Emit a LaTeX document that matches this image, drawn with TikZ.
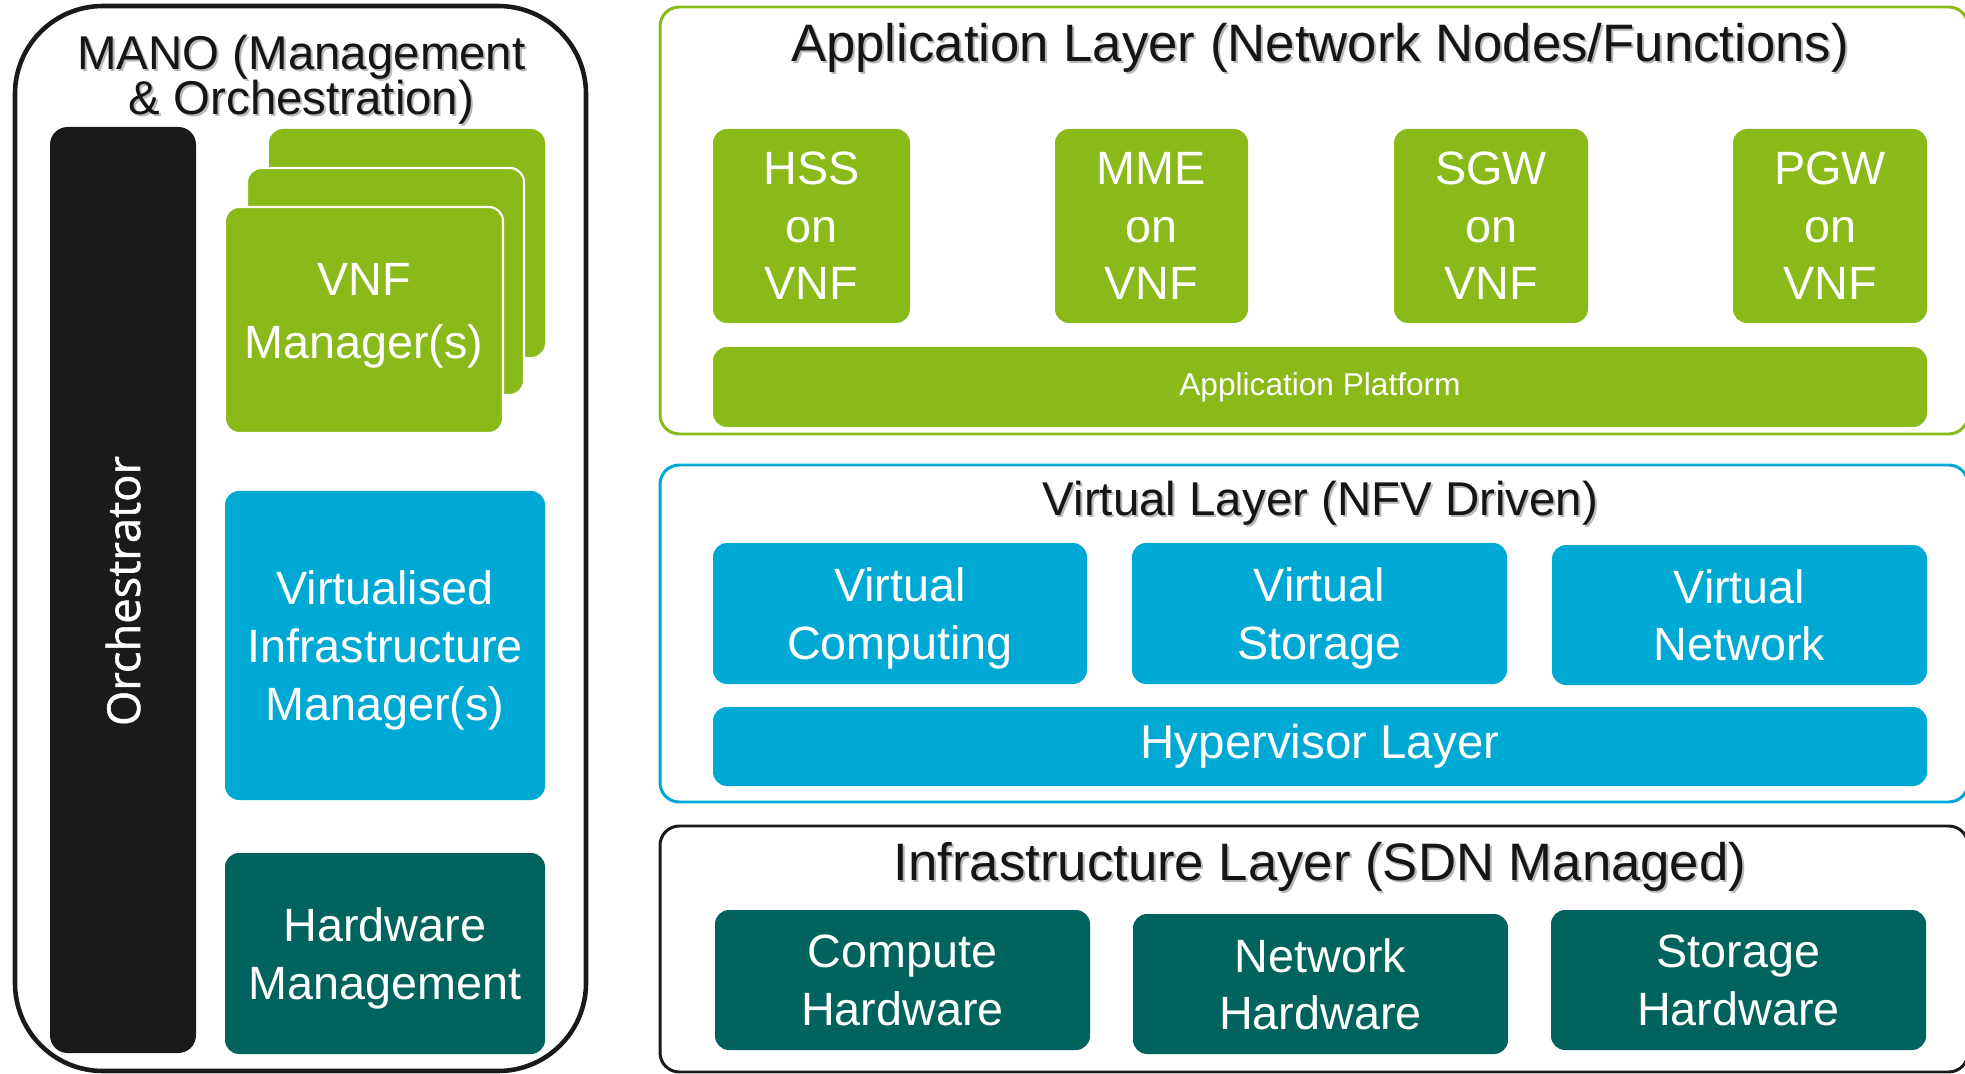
\documentclass[tikz,border=0pt]{standalone}
\usepackage{fontspec}
\setmainfont{Liberation Sans}
\newfontfamily\orchfont{Open Sans}[FakeBold=1.2]
\definecolor{nfvgreen}{HTML}{8AB91A}
\definecolor{nfvblue}{HTML}{00A9D3}
\definecolor{nfvteal}{HTML}{00635D}
\definecolor{nfvblack}{HTML}{1A1A1A}
\definecolor{ttlblack}{HTML}{151515}
\newcommand\bx[7]{\node[#6, minimum width={(#4-#2)*0.02cm}, minimum height={(#5-#3)*0.02cm}] (#1) at ({(#2+#4)/2},{(#3+#5)/2}) {#7};}
\tikzset{
  card/.style={rectangle, rounded corners=8pt, inner sep=0pt, align=center, text=white,
               text depth=0pt, font=\fontsize{26.6}{32.8}\selectfont},
  gcard/.style={card, fill=nfvgreen},
  bcard/.style={card, fill=nfvblue},
  tcard/.style={card, fill=nfvteal},
  layerbox/.style={rectangle, rounded corners=11pt, line width=1.7pt, fill=white, inner sep=0pt},
  ttl/.style={anchor=base, inner sep=0pt, text=ttlblack, align=center},
  shd/.style={anchor=base, inner sep=0pt, text=black!28, align=center},
}
\begin{document}
\begin{tikzpicture}[x=0.02cm,y=-0.02cm]
\useasboundingbox (0,0) rectangle (1965,1074);
\clip (0,0) rectangle (1965,1074);
\fill[white] (0,0) rectangle (1965,1074);

% ---------- MANO ----------
\bx{mano}{15}{6}{586}{1071}{rectangle, rounded corners=50pt, draw=nfvblack, line width=2.6pt, inner sep=0pt}{}
\node[shd, font=\fontsize{27}{22.7}\selectfont] (manoTs) at (303.5,117) {MANO (Management\\\& Orchestration)};
\node[ttl, font=\fontsize{27}{22.7}\selectfont] (manoT) at (301.5,115) {MANO (Management\\\& Orchestration)};

\bx{orch}{50}{127}{196}{1053}{rectangle, rounded corners=10pt, fill=nfvblack, inner sep=0pt}{}
\node[rotate=90, text=white, inner sep=0pt, font=\orchfont\fontsize{25.8}{30}\selectfont] (orchT) at (123,591) {Orchestrator};

\bx{vnfc}{269}{129}{545}{357}{gcard}{}
\bx{vnfb}{247}{168}{524}{395}{gcard, draw=white, line width=1.2pt}{}
\bx{vnfa}{225}{207}{503}{433}{gcard, draw=white, line width=1.2pt, text depth=10pt, font=\fontsize{26.6}{35.7}\selectfont}{VNF\\Manager(s)}
\bx{vim}{225}{491}{545}{800}{bcard}{Virtualised\\Infrastructure\\Manager(s)}
\bx{hwm}{225}{853}{545}{1054}{tcard, font=\fontsize{26.6}{33.4}\selectfont}{Hardware\\Management}

% ---------- Application layer ----------
\bx{app}{660}{7}{1968}{434}{layerbox, draw=nfvgreen}{}
\node[shd, font=\fontsize{30}{30}\selectfont] (appTs) at (1322,64) {Application Layer (Network Nodes/Functions)};
\node[ttl, font=\fontsize{30}{30}\selectfont] (appT) at (1320,62) {Application Layer (Network Nodes/Functions)};
\bx{hss}{713}{129}{910}{323}{gcard}{HSS\\on\\VNF}
\bx{mme}{1055}{129}{1248}{323}{gcard}{MME\\on\\VNF}
\bx{sgw}{1394}{129}{1588}{323}{gcard}{SGW\\on\\VNF}
\bx{pgw}{1733}{129}{1927}{323}{gcard}{PGW\\on\\VNF}
\bx{aplat}{713}{347}{1927}{427}{gcard, text depth=3.8pt, font=\fontsize{18}{20}\selectfont}{Application Platform}

% ---------- Virtual layer ----------
\bx{virt}{660}{465}{1968}{802}{layerbox, draw=nfvblue}{}
\node[shd, font=\fontsize{27}{27}\selectfont] (virtTs) at (1322.5,518) {Virtual Layer (NFV Driven)};
\node[ttl, font=\fontsize{27}{27}\selectfont] (virtT) at (1320.5,516) {Virtual Layer (NFV Driven)};
\bx{vc}{713}{543}{1087}{684}{bcard}{Virtual\\Computing}
\bx{vs}{1132}{543}{1507}{684}{bcard}{Virtual\\Storage}
\bx{vn}{1552}{545}{1927}{685}{bcard}{Virtual\\Network}
\bx{hyp}{713}{707}{1927}{786}{bcard, text depth=5.6pt, font=\fontsize{27}{30}\selectfont}{Hypervisor Layer}

% ---------- Infrastructure layer ----------
\bx{infra}{660}{826}{1968}{1072}{layerbox, draw=nfvblack}{}
\node[shd, font=\fontsize{30}{30}\selectfont] (infTs) at (1322,882) {Infrastructure Layer (SDN Managed)};
\node[ttl, font=\fontsize{30}{30}\selectfont] (infT) at (1320,880) {Infrastructure Layer (SDN Managed)};
\bx{ch}{715}{910}{1090}{1050}{tcard}{Compute\\Hardware}
\bx{nh}{1133}{914}{1508}{1054}{tcard}{Network\\Hardware}
\bx{sh}{1551}{910}{1926}{1050}{tcard}{Storage\\Hardware}
\end{tikzpicture}
\end{document}
